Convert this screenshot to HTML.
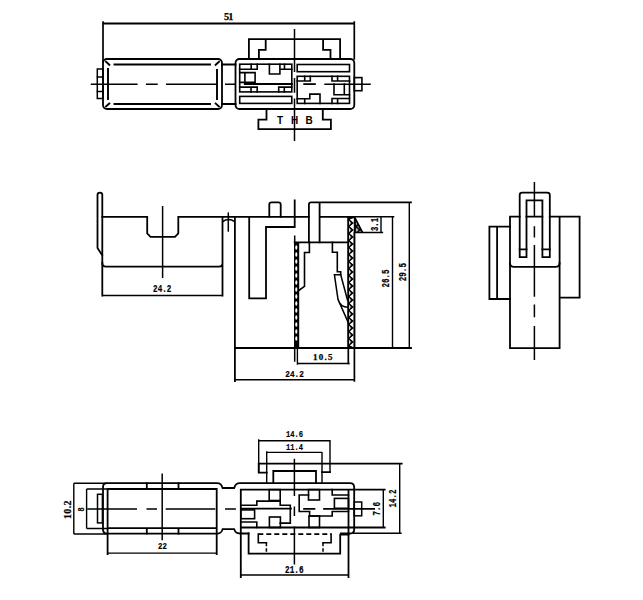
<!DOCTYPE html>
<html><head><meta charset="utf-8">
<style>
html,body{margin:0;padding:0;background:#fff;}
body{width:643px;height:600px;overflow:hidden;}
svg{display:block;}
.m{fill:none;stroke:#000;stroke-width:1.8;stroke-linecap:square;stroke-linejoin:miter;}
.c{fill:none;stroke:#000;stroke-width:1.5;}
.d{fill:none;stroke:#000;stroke-width:1.4;}
.t{font-family:"Liberation Sans",sans-serif;font-weight:bold;font-size:9.5px;fill:#000;}
.s{font-family:"Liberation Serif",serif;font-weight:bold;font-size:10.5px;fill:#000;}
.k{font-family:"Liberation Mono",monospace;font-weight:bold;fill:#000;stroke:#000;stroke-width:0.2;}
.n{font-family:"Liberation Serif",serif;font-weight:bold;fill:#000;stroke:#000;stroke-width:0.25;}
</style></head>
<body>
<svg width="643" height="600" viewBox="0 0 643 600">
<defs>
<pattern id="hx" patternUnits="userSpaceOnUse" width="7" height="7" x="348.3" y="244">
<rect width="7" height="7" fill="#000"/>
<path d="M2.2,3.5 L5.5,0.4 L5.5,6.6 Z" fill="#fff"/>
<path d="M0.9,-2.4 L2.9,0 L0.9,2.4 Z M0.9,4.6 L2.9,7 L0.9,9.4 Z" fill="#fff"/>
</pattern>
<pattern id="hy" patternUnits="userSpaceOnUse" width="7" height="7" x="294" y="244">
<rect width="7" height="7" fill="#000"/>
<ellipse cx="2.25" cy="3.5" rx="1.05" ry="2.3" fill="#fff"/>
</pattern>
</defs>

<!-- ============ VIEW 1 (top) ============ -->
<g id="v1">
<!-- dimension 51 -->
<path class="m" d="M103,22 V62 M354.3,22 V59" style="stroke-width:1.7"/><path class="d" d="M103,23.5 H354.3" style="stroke-width:1.8"/>
<!-- left body -->
<rect class="m" x="103" y="59" width="119" height="50" rx="4"/>
<path class="m" d="M114.5,64.5 H210 M114.5,104 H210 M108,69 V99 M217,70 V99 M106,61.8 L109.3,64.8 M106,106.5 L109.3,103.5 M219,61.8 L215.7,64.8 M219,106.5 L215.7,103.5" style="stroke-width:1.9"/>
<!-- left tab -->
<rect class="m" x="97.3" y="69" width="5.7" height="29.5" style="stroke-width:1.5"/>
<path class="m" d="M97.3,77 H103 M97.3,91.5 H103" style="stroke-width:1.3"/>
<!-- centerline -->
<path class="c" d="M90.8,84.2 H137.6 M145.9,84.2 H157.7 M166,84.2 H217 M225,84.2 H235.5 M324.3,84.2 H370.8" style="stroke-width:1.5"/>
<!-- joint -->
<path class="m" d="M222,64.5 H235.5 M222,104 H235.5" style="stroke-width:2"/>
<!-- connector body -->
<rect class="m" x="235.5" y="59" width="118.8" height="50" rx="4"/>
<!-- top piece -->
<path class="m" d="M248.9,59 V39.1 H340.1 V59 M265.7,39.1 V49.8 H258.9 V59 M323.1,39.1 V49.8 H330.5 V59"/>
<!-- bottom piece -->
<path class="m" d="M266.5,109 V119.6 H258.4 V129.1 H330.9 V119.6 H322.8 V109"/>
<text class="t" x="280" y="124" text-anchor="middle" style="font-size:10px">T</text>
<text class="t" x="294.5" y="124" text-anchor="middle" style="font-size:10px">H</text>
<text class="t" x="309" y="124" text-anchor="middle" style="font-size:10px">B</text>
<!-- vertical centerline -->
<path class="c" d="M294.5,29 V72 M294.5,78 V92.7 M294.5,98.5 V141" style="stroke-width:1.5"/>
<!-- block A -->
<g class="m" style="stroke-width:1.6">
<rect x="239.7" y="64.2" width="52.1" height="27.7"/>
<path d="M239.7,69.3 H257.2 M251.2,64.2 V69.3 M257.2,64.2 V69.3 M269.4,64.2 V74 H279.9 V64.2 M279.9,69.3 H291.8 M284.5,64.2 V69.3"/>
<path d="M239.7,72.6 H255.1 V82.4 H239.7 M244.9,72.6 V82.4"/>
<path d="M244.9,84.1 H291.8" style="stroke-width:2"/>
<path d="M239.7,87.1 H257.2 V91.9 M251,87.1 V91.9 M278.7,91.9 V87.1 H291.8 M284.3,87.1 V91.9"/>
<rect x="239.7" y="96.4" width="52.1" height="7"/>
</g>
<!-- block C -->
<g class="m" style="stroke-width:1.6">
<rect x="297.2" y="64.5" width="52.3" height="7.2"/>
<rect x="297.2" y="76.3" width="52.3" height="27.1"/>
<path d="M297.2,81 H310.3 V76.3 M304.7,76.3 V81 M332,76.3 V81 H349.5 M337.6,76.3 V81"/>
<path d="M304.2,84.1 H314.9" style="stroke-width:1.8"/>
<path d="M334,84.1 V94.7 H349.5 M344.3,84.1 V94.7"/>
<path d="M297.2,98.7 H309.8 V94.1 H320 V103.4 M304.7,98.7 V103.4 M332,103.4 V98.5 H349.5 M337.6,98.5 V103.4"/>
</g>
<!-- right tab -->
<rect class="m" x="354.3" y="77.6" width="7.6" height="13.1" style="stroke-width:1.6"/>
</g>

<!-- ============ VIEW 2 (side) ============ -->
<g id="v2">
<!-- left part -->
<path class="m" d="M102.3,295.7 V195 A2.4,2.4 0 0 0 97.5,195 V248 L102.3,255.4"/>
<path class="m" d="M102.3,216.8 H147.2 V233.5 L150.5,236.8 H175 L178.3,233.5 V216.8 H308.9"/>
<path class="m" d="M222.5,216.8 V295.7 M222.5,263 Q222.5,266.6 218.9,266.6 H106 Q102.3,266.6 102.3,263"/>
<path class="c" d="M162.6,206 V278"/>
<path class="d" d="M102.3,295.5 H222.5"/>
<!-- crosshair -->
<path class="c" d="M228.3,212.4 V231.7"/>
<path class="m" d="M222.4,221.8 Q228.6,217.2 234.9,221.8" style="stroke-width:1.5;stroke-linecap:butt"/>
<!-- connector -->
<path class="m" d="M234.9,216.8 V381"/>
<path class="m" d="M249.2,216.8 V298.3 H266 V227 H294.7 V200.3"/>
<path class="m" d="M269.3,216.8 V204.5 Q269.3,202.3 271.5,202.3 H278.5 Q280.7,202.3 280.7,204.5 V216.8"/>
<path class="m" d="M308.9,242.3 V204.5 Q308.9,202.3 311.1,202.3 H411 M319.6,202.3 V242.3 M319.6,216.8 H348.3"/>
<path class="m" d="M294.7,236.3 V242.3 M294.7,348 V361" style="stroke-width:1.5"/><path class="m" d="M294.7,242.3 H348.3"/>
<!-- left wall -->
<rect x="294" y="243" width="5.2" height="105" fill="#000"/>
<g fill="#fff"><ellipse cx="296.3" cy="247.5" rx="1.05" ry="2.3"/><ellipse cx="296.3" cy="254.5" rx="1.05" ry="2.3"/><ellipse cx="296.3" cy="261.5" rx="1.05" ry="2.3"/><ellipse cx="296.3" cy="268.5" rx="1.05" ry="2.3"/><ellipse cx="296.3" cy="275.5" rx="1.05" ry="2.3"/><ellipse cx="296.3" cy="282.5" rx="1.05" ry="2.3"/><ellipse cx="296.3" cy="289.5" rx="1.05" ry="2.3"/><ellipse cx="296.3" cy="296.5" rx="1.05" ry="2.3"/><ellipse cx="296.3" cy="303.5" rx="1.05" ry="2.3"/><ellipse cx="296.3" cy="310.5" rx="1.05" ry="2.3"/><ellipse cx="296.3" cy="317.5" rx="1.05" ry="2.3"/><ellipse cx="296.3" cy="324.5" rx="1.05" ry="2.3"/><ellipse cx="296.3" cy="331.5" rx="1.05" ry="2.3"/><ellipse cx="296.3" cy="338.5" rx="1.05" ry="2.3"/></g>
<path class="m" d="M297.4,348 V364" style="stroke-width:1.4"/>
<!-- left contact -->
<path class="m" d="M309.4,242.3 V252.5 H304.5 V286.3 L299,290.3" style="stroke-width:1.6"/>
<!-- right wall -->
<rect x="347.5" y="216.8" width="7.7" height="131" fill="#000"/>
<path fill="#fff" d="M349.8,219.5 L353.8,218.0 L353.8,223.0 Z M349.8,226.5 L353.8,223.0 L353.8,230.0 Z M349.8,233.5 L353.8,230.0 L353.8,237.0 Z M349.8,240.5 L353.8,237.0 L353.8,244.0 Z M349.8,247.5 L353.8,244.0 L353.8,251.0 Z M349.8,254.5 L353.8,251.0 L353.8,258.0 Z M349.8,261.5 L353.8,258.0 L353.8,265.0 Z M349.8,268.5 L353.8,265.0 L353.8,272.0 Z M349.8,275.5 L353.8,272.0 L353.8,279.0 Z M349.8,282.5 L353.8,279.0 L353.8,286.0 Z M349.8,289.5 L353.8,286.0 L353.8,293.0 Z M349.8,296.5 L353.8,293.0 L353.8,300.0 Z M349.8,303.5 L353.8,300.0 L353.8,307.0 Z M349.8,310.5 L353.8,307.0 L353.8,314.0 Z M349.8,317.5 L353.8,314.0 L353.8,321.0 Z M349.8,324.5 L353.8,321.0 L353.8,328.0 Z M349.8,331.5 L353.8,328.0 L353.8,335.0 Z M349.8,338.5 L353.8,335.0 L353.8,342.0 Z M349.8,345.5 L353.8,342.0 L353.8,347.2 Z M349,220.6 L350.9,223.0 L349,225.4 Z M349,227.6 L350.9,230.0 L349,232.4 Z M349,234.6 L350.9,237.0 L349,239.4 Z M349,241.6 L350.9,244.0 L349,246.4 Z M349,248.6 L350.9,251.0 L349,253.4 Z M349,255.6 L350.9,258.0 L349,260.4 Z M349,262.6 L350.9,265.0 L349,267.4 Z M349,269.6 L350.9,272.0 L349,274.4 Z M349,276.6 L350.9,279.0 L349,281.4 Z M349,283.6 L350.9,286.0 L349,288.4 Z M349,290.6 L350.9,293.0 L349,295.4 Z M349,297.6 L350.9,300.0 L349,302.4 Z M349,304.6 L350.9,307.0 L349,309.4 Z M349,311.6 L350.9,314.0 L349,316.4 Z M349,318.6 L350.9,321.0 L349,323.4 Z M349,325.6 L350.9,328.0 L349,330.4 Z M349,332.6 L350.9,335.0 L349,337.4 Z M349,339.6 L350.9,342.0 L349,344.4 Z"/>
<path d="M354.8,216.8 L362,231.5 L354.8,232.5 Z" fill="url(#hx)"/>
<path class="m" d="M348.3,216.8 V363.5 M354.4,216.8 L362,231.5 M354.4,232.5 V381 M354.4,232.5 H382.3" style="stroke-width:1.7"/>
<!-- right contact -->
<path class="m" d="M332.4,242.3 V252.3 H337.3 V271.8 H340.7 V274.7" style="stroke-width:1.6"/>
<path class="m" d="M340.7,274.7 H334.4 L338,299.3 Q340,307.3 348.3,307.3 M340.7,274.7 L347.5,300 M338,299.3 L348.3,322.7" style="stroke-width:1.5"/>
<!-- bottom -->
<path class="m" d="M234.9,348 H411"/>
<!-- dims -->
<path class="d" d="M297.4,363.5 H349.7 M234.9,379.7 H354.8"/>
<path class="d" d="M348.3,216.8 H394.3 M381,216.8 V232.5 M392.5,216.8 V348 M409.3,202.3 V348"/>
</g>

<!-- ============ VIEW 3 (end) ============ -->
<g id="v3">
<path class="c" d="M534.4,182 V216 M534.4,226.3 V237.4 M534.4,245 V296.8 M534.4,304.5 V317.3 M534.4,325.9 V360"/>
<path class="m" d="M519.7,257.1 V195 Q519.7,192.6 522.1,192.6 H547.4 Q549.8,192.6 549.8,195 V257.1 H542.4 V200.3 H526.5 V257.1 Z"/>
<path class="m" d="M526.5,216.6 H542.4 M519.7,249.4 H526.5 M542.4,249.4 H549.8"/>
<path class="m" d="M510,348.1 V216.6 H519.7 M549.8,216.6 H579.6 V297.6 H559.6 M510,348.1 H559.6 V216.6"/>
<path class="m" d="M510,226.7 H489.4 V299 H510 M497.1,226.7 V299"/>
<path class="m" d="M510,263 Q510,266.8 514,266.8 H555.6 Q559.6,266.8 559.6,263"/>
</g>

<!-- ============ VIEW 4 (bottom) ============ -->
<g id="v4">
<path class="d" d="M73.8,483.2 V534 M73.8,483.2 H107 M73.8,534 H107 M86.6,489 V528.5 M86.6,489 H107.6 M86.6,528.5 H107.6"/>
<rect class="m" x="97.5" y="494.3" width="4.9" height="28.6" style="stroke-width:1.5"/>
<!-- left body outer -->
<path class="m" d="M107,483.2 H217 C220.5,483.2 221.5,484.5 222.6,488 H234.2 C235.3,484.5 236.3,483.2 239.8,483.2 H350 Q354.2,483.2 354.2,487.5 V529.5 Q354.2,533.5 350,533.5 H341 M248.6,533.5 H239.8 C236.3,533.5 235.3,532.4 234.2,529.2 H222.6 C221.5,532.4 220.5,533.6 217,533.6 H107 Q103,533.6 103,529.6 V487.2 Q103,483.2 107,483.2"/>
<path class="m" d="M107.6,489 H216.7 M107.6,528.2 H216.7 M107.6,489 V554 M216.7,489 V554 M146.8,483.2 V489 M178.5,483.2 V489 M146.8,528.2 V533.6 M178.5,528.2 V533.6"/>
<path class="c" d="M162.2,473.5 V540.3"/>
<path class="c" d="M87.2,509 H137 M146.5,509 H157 M165.7,509 H215.3 M225,509 H235.9" style="stroke-width:1.5"/>
<path class="d" d="M107.6,553.1 H216.7"/>
<!-- connector inner -->
<path class="m" d="M240.8,489.6 H384.7 M240.8,527.5 H384.7 M240.8,489.6 V577 M348.5,489.6 V577"/>
<g class="m" style="stroke-width:1.6">
<rect x="269.2" y="489.6" width="11" height="10.9"/>
<path d="M240.8,505.3 H256.8 V501.1 H280.2 V505.3 H290.3 V523.1 H280.2"/>
<path d="M241.9,508.6 H290.9" style="stroke-width:1.9"/>
<rect x="240.8" y="509.9" width="13.8" height="8.8"/>
<path d="M240.8,522 H256.8 V527.5"/>
<rect x="269.4" y="517" width="11" height="10.5"/>
<rect x="308.5" y="489.6" width="11" height="10.4"/>
<path d="M308.5,495 H299.2 V511.5 H309.6 V516 H332.2 V511.5 H348.5"/>
<path d="M332.2,489.6 V495 H348.5"/>
<rect x="334.4" y="498.4" width="14.1" height="9.9"/>
<path d="M304,508.8 H314.5 M324,508.8 H374.2" style="stroke-width:1.7"/>
<rect x="309" y="516" width="10.5" height="11.5"/>
</g>
<rect class="m" x="354.2" y="502" width="7.5" height="13.8" style="stroke-width:1.5"/>
<path class="c" d="M294.4,458.7 V496 M294.4,506.6 V516 M294.4,526.4 V564.4" style="stroke-width:1.5"/>
<!-- top parts -->
<path class="m" d="M258.7,472.7 V463.7 H401.7 M258.7,472.7 H266.7 M273.3,482.7 V471 H316 V482.7 M330,472.2 H322"/>
<path class="d" d="M258.7,439.3 V472.7 M266.7,451.3 V482.7 M322,452 V482.7 M330,440 V472.2 M258.7,440.7 H330 M266.7,452.4 H322"/>
<!-- dims right -->
<path class="d" d="M399.7,463.3 V533.3 M353,533.3 H401.7 M383.3,489.6 V527.5"/>
<!-- bottom piece -->
<path class="m" d="M248.6,533.5 V553.7 H340.2 V534.7 H348.5"/>
<path class="m" d="M266.4,542.8 H258.3 V534.1 M331.1,534.1 V542.8 H323" style="stroke-width:1.6"/><path class="m" d="M258.3,534.1 H331.1" style="stroke-dasharray:5 3;stroke-width:1.6;stroke-linecap:butt"/><path class="m" d="M266.4,542.8 V553.7 M323,542.8 V553.7" style="stroke-dasharray:3.5 2;stroke-width:1.5;stroke-linecap:butt"/>
<path class="d" d="M241,575 H348.5"/>
</g>
<g id="labels">
<text class="n" x="224.0" y="19.9" font-size="10.29" letter-spacing="-1.0">51</text>
<text class="k" transform="translate(153.1,291.9) scale(0.74,1)" font-size="10.31">24.2</text>
<text class="n" x="313.0" y="359.7" font-size="8.99" letter-spacing="1.23">10.5</text>
<text class="k" transform="translate(285.3,376.5) scale(0.8,1)" font-size="9.69">24.2</text>
<text class="k" transform="translate(378.1,231.0) rotate(-90) scale(0.633,1)" font-size="11.41">3.1</text>
<text class="k" transform="translate(389.0,287.4) rotate(-90) scale(0.685,1)" font-size="10.94">26.5</text>
<text class="k" transform="translate(405.7,281.2) rotate(-90) scale(0.657,1)" font-size="11.5">29.5</text>
<text class="n" transform="translate(71.3,519.0) rotate(-90)" font-size="10.0" letter-spacing="0.33">10.2</text>
<text class="k" transform="translate(83.9,511.4) rotate(-90) scale(0.8,1)" font-size="8.75">8</text>
<text class="k" transform="translate(158.0,548.8) scale(0.783,1)" font-size="9.38">22</text>
<text class="k" transform="translate(286.0,436.9) scale(0.721,1)" font-size="9.84">14.6</text>
<text class="k" transform="translate(286.0,449.5) scale(0.721,1)" font-size="9.84">11.4</text>
<text class="k" transform="translate(396.0,507.5) rotate(-90) scale(0.732,1)" font-size="10.31">14.2</text>
<text class="k" transform="translate(380.1,515.8) rotate(-90) scale(0.742,1)" font-size="10.47">7.6</text>
<text class="k" transform="translate(285.0,572.5) scale(0.696,1)" font-size="11.09">21.6</text>
</g>
</svg>
</body></html>
